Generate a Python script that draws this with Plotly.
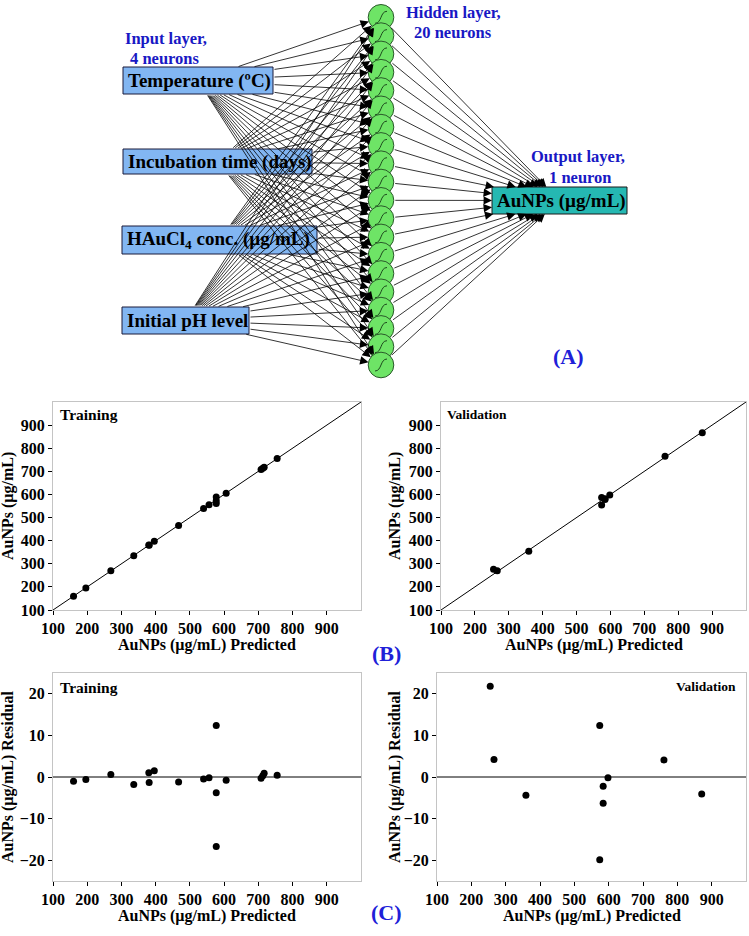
import math
import plotly.graph_objects as go

W, H = 749, 936

# ---------------- data ----------------
train_pred = [160, 196, 269, 336, 380, 381, 396, 467, 540, 556, 577, 577, 577, 606, 708, 713, 717, 755]
train_actual = [159.0, 195.4, 269.6, 334.2, 381.0, 379.7, 397.5, 465.8, 539.5, 555.8, 589.4, 573.2,
                560.3, 605.2, 707.7, 713.3, 717.9, 755.4]
train_resid = [-1.0, -0.6, 0.6, -1.8, 1.0, -1.3, 1.5, -1.2, -0.5, -0.2, 12.4, -3.8, -16.7, -0.8,
               -0.3, 0.3, 0.9, 0.4]

valid_pred = [255, 266, 359, 574, 574, 584, 584, 598, 761, 871]
valid_actual = [276.8, 270.2, 354.6, 586.4, 554.1, 581.8, 577.7, 597.8, 765.1, 866.9]
valid_resid = [21.8, 4.2, -4.4, 12.4, -19.9, -2.2, -6.3, -0.2, 4.1, -4.1]

x_ticks = [100, 200, 300, 400, 500, 600, 700, 800, 900]
parity_y_ticks = [100, 200, 300, 400, 500, 600, 700, 800, 900]
resid_y_ticks = [-20, -10, 0, 10, 20]

input_names = ["Temperature (ºC)", "Incubation time (days)",
               "HAuCl<sub>4</sub> conc. (µg/mL)", "Initial pH level"]
output_name = "AuNPs (µg/mL)"
n_hidden = 20

# ---------------- helpers ----------------
def px(x):
    return x / W

def py(y):
    return 1 - y / H

SERIF = "Liberation Serif"
BLUE = "#1818c4"
shapes = []
annotations = []


def text(x, y, s, size=15, color="black", xanchor="center", textangle=0):
    annotations.append(dict(x=px(x), y=py(y), xref="paper", yref="paper", text=s,
                            showarrow=False, xanchor=xanchor, yanchor="middle",
                            textangle=textangle,
                            font=dict(family=SERIF, size=size, color=color, weight="bold")))


def arrow(tx, ty, hx, hy):
    annotations.append(dict(x=px(hx), y=py(hy), xref="paper", yref="paper",
                            ax=tx - hx, ay=ty - hy, text="", showarrow=True,
                            arrowhead=2, arrowsize=2.1, arrowwidth=0.8,
                            arrowcolor="black", standoff=0, startstandoff=0))


def box_exit(cx, cy, hw, hh, dx, dy):
    t = min(hw / abs(dx) if dx else 1e9, hh / abs(dy) if dy else 1e9)
    return cx + dx * t, cy + dy * t

# ---------------- network diagram ----------------
in_boxes = [(123, 273, 67, 94), (123, 312, 149, 174), (122, 317, 226, 254), (122, 249, 307, 334)]
hid_x, hid_y0, hid_dy, hid_r = 381, 17.3, 18.3, 12.8
out_box = (492, 627, 187, 214)
ocx, ocy = (out_box[0] + out_box[1]) / 2, (out_box[2] + out_box[3]) / 2

hid_centers = [(hid_x, hid_y0 + i * hid_dy) for i in range(n_hidden)]

# input -> hidden arrows
for (x0, x1, y0, y1) in in_boxes:
    cx, cy = (x0 + x1) / 2, (y0 + y1) / 2
    hw, hh = (x1 - x0) / 2, (y1 - y0) / 2
    for (nx, ny) in hid_centers:
        dx, dy = nx - cx, ny - cy
        L = math.hypot(dx, dy)
        tx, ty = box_exit(cx, cy, hw, hh, dx, dy)
        hx, hy = nx - dx / L * hid_r, ny - dy / L * hid_r
        arrow(tx, ty, hx, hy)

# hidden -> output arrows
ohw, ohh = (out_box[1] - out_box[0]) / 2, (out_box[3] - out_box[2]) / 2
for (nx, ny) in hid_centers:
    dx, dy = ocx - nx, ocy - ny
    L = math.hypot(dx, dy)
    tx, ty = nx + dx / L * hid_r, ny + dy / L * hid_r
    hx, hy = box_exit(ocx, ocy, ohw, ohh, -dx, -dy)
    arrow(tx, ty, hx, hy)

# input boxes
for (x0, x1, y0, y1), name in zip(in_boxes, input_names):
    shapes.append(dict(type="rect", xref="paper", yref="paper", x0=px(x0), x1=px(x1),
                       y0=py(y1), y1=py(y0), fillcolor="#82b6f2",
                       line=dict(color="#1a1a3a", width=1), layer="above"))
    text(x0 + 3, (y0 + y1) / 2, name, size=19, xanchor="left")

# hidden neurons
for (nx, ny) in hid_centers:
    shapes.append(dict(type="circle", xref="paper", yref="paper",
                       x0=px(nx - hid_r), x1=px(nx + hid_r), y0=py(ny + hid_r), y1=py(ny - hid_r),
                       fillcolor="#6ee466", line=dict(color="#2a5a2a", width=1), layer="above"))
    p = (f"M {px(nx - 6)},{py(ny + 6)} C {px(nx + 1)},{py(ny + 6)} "
         f"{px(nx - 1)},{py(ny - 6)} {px(nx + 6)},{py(ny - 6)}")
    shapes.append(dict(type="path", xref="paper", yref="paper", path=p,
                       line=dict(color="#1d4a1d", width=1), layer="above"))

# output box
shapes.append(dict(type="rect", xref="paper", yref="paper", x0=px(out_box[0]), x1=px(out_box[1]),
                   y0=py(out_box[3]), y1=py(out_box[2]), fillcolor="#25b8b2",
                   line=dict(color="#1a1a1a", width=1), layer="above"))
text(out_box[0] + 3, ocy, output_name, size=19, xanchor="left")

# layer labels
text(166, 39, "Input layer,", size=16.5, color=BLUE)
text(165, 58, "4 neurons", size=16.5, color=BLUE)
text(453, 13, "Hidden layer,", size=16.5, color=BLUE)
text(453, 33, "20 neurons", size=16.5, color=BLUE)
text(578, 157, "Output layer,", size=16.5, color=BLUE)
text(580, 177, "1 neuron", size=16.5, color=BLUE)
text(568, 356, "(A)", size=22, color="#2020d8")
text(386, 653, "(B)", size=22, color="#2020d8")
text(386, 912, "(C)", size=22, color="#2020d8")

# ---------------- scatter plots ----------------
fig = go.Figure()
mk = dict(color="black", size=7)
line_k = dict(color="black", width=1)
diag = [100, 1000]

fig.add_trace(go.Scatter(x=diag, y=diag, mode="lines", line=line_k, xaxis="x", yaxis="y", hoverinfo="skip"))
fig.add_trace(go.Scatter(x=train_pred, y=train_actual, mode="markers", marker=mk, xaxis="x", yaxis="y"))
fig.add_trace(go.Scatter(x=diag, y=diag, mode="lines", line=line_k, xaxis="x2", yaxis="y2", hoverinfo="skip"))
fig.add_trace(go.Scatter(x=valid_pred, y=valid_actual, mode="markers", marker=mk, xaxis="x2", yaxis="y2"))
fig.add_trace(go.Scatter(x=diag, y=[0, 0], mode="lines", line=line_k, xaxis="x3", yaxis="y3", hoverinfo="skip"))
fig.add_trace(go.Scatter(x=train_pred, y=train_resid, mode="markers", marker=mk, xaxis="x3", yaxis="y3"))
fig.add_trace(go.Scatter(x=diag, y=[0, 0], mode="lines", line=line_k, xaxis="x4", yaxis="y4", hoverinfo="skip"))
fig.add_trace(go.Scatter(x=valid_pred, y=valid_resid, mode="markers", marker=mk, xaxis="x4", yaxis="y4"))

tickfont = dict(family=SERIF, size=16, color="black", weight="bold")


def axis(domain, rng, ticks, anchor):
    return dict(domain=domain, range=rng, tickvals=ticks, anchor=anchor, automargin=False,
                showline=True, linecolor="#c4c4c4", linewidth=1, mirror=True,
                ticks="outside", ticklen=4, tickwidth=1, tickcolor="black",
                showgrid=False, zeroline=False, tickfont=tickfont, fixedrange=True)


p_top, p_bot = 402, 610
r_top, r_bot = 673, 881
L1, R1 = 53, 361
L2, R2 = 441, 746
L4 = 437

fig.update_layout(
    xaxis=axis([px(L1), px(R1)], [100, 1000], x_ticks, "y"),
    yaxis=axis([py(p_bot), py(p_top)], [100, 1000], parity_y_ticks, "x"),
    xaxis2=axis([px(L2), px(R2)], [100, 1000], x_ticks, "y2"),
    yaxis2=axis([py(p_bot), py(p_top)], [100, 1000], parity_y_ticks, "x2"),
    xaxis3=axis([px(L1), px(R1)], [100, 1000], x_ticks, "y3"),
    yaxis3=axis([py(r_bot), py(r_top)], [-25, 25], resid_y_ticks, "x3"),
    xaxis4=axis([px(L4), px(R2)], [100, 1000], x_ticks, "y4"),
    yaxis4=axis([py(r_bot), py(r_top)], [-25, 25], resid_y_ticks, "x4"),
)

# axis titles and panel labels
xt = "AuNPs (µg/mL) Predicted"
text((L1 + R1) / 2, 645, xt, size=16)
text((L2 + R2) / 2, 645, xt, size=16)
text((L1 + R1) / 2, 916, xt, size=16)
text((L4 + R2) / 2, 916, xt, size=16)
text(8, (p_top + p_bot) / 2, "AuNPs (µg/mL)", size=16, textangle=-90)
text(395, (p_top + p_bot) / 2, "AuNPs (µg/mL)", size=16, textangle=-90)
text(8, (r_top + r_bot) / 2, "AuNPs (µg/mL) Residual", size=16, textangle=-90)
text(395, (r_top + r_bot) / 2, "AuNPs (µg/mL) Residual", size=16, textangle=-90)
text(58, 414, "Training", size=15.5, xanchor="left")
text(445, 414, "Validation", size=13.5, xanchor="left")
text(58, 687, "Training", size=15.5, xanchor="left")
text(738, 686, "Validation", size=13.5, xanchor="right")

fig.update_layout(width=W, height=H, margin=dict(l=0, r=0, t=0, b=0, pad=0, autoexpand=False),
                  plot_bgcolor="white", paper_bgcolor="white", showlegend=False,
                  shapes=shapes, annotations=annotations)

fig.write_html("out.html", config={"displayModeBar": False},
               post_script="document.body.style.margin='0';document.body.style.overflow='hidden';")
